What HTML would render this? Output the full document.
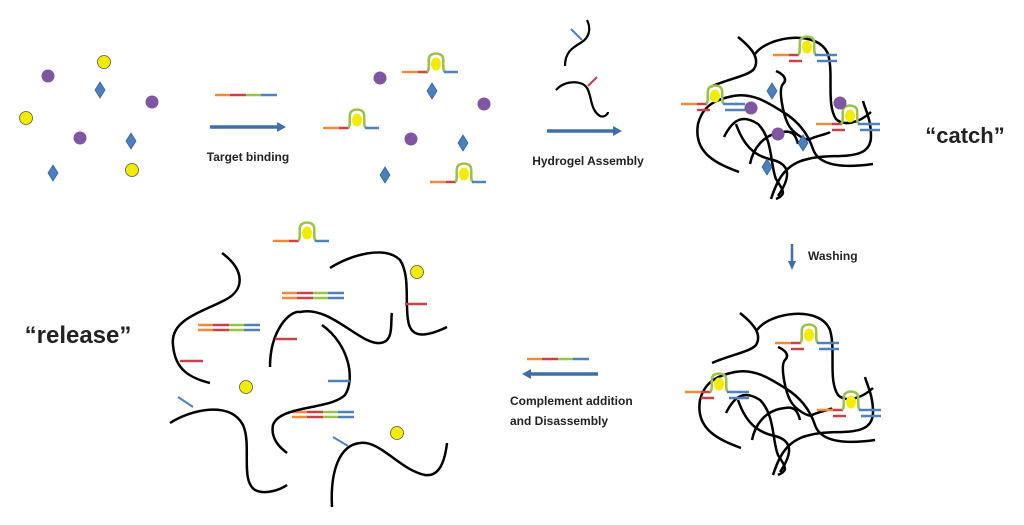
<!DOCTYPE html>
<html><head><meta charset="utf-8"><style>
html,body{margin:0;padding:0;background:#fff;}
svg{display:block;}
text{font-family:"Liberation Sans",sans-serif;font-weight:bold;fill:#222;}
</style></head><body>
<svg width="1024" height="525" viewBox="0 0 1024 525" xmlns="http://www.w3.org/2000/svg">
<defs>
<g id="dia"><path d="M0,-8 L5,0 L0,8 L-5,0 Z" fill="#4a7fc0" stroke="#35659c" stroke-width="0.8"/></g>
<g id="pur"><circle r="6.5" fill="#8056a3"/></g>
<g id="yel"><circle r="6.5" fill="#f2ec00" stroke="#555" stroke-width="0.8"/></g>
<g id="probe">
<line x1="-34" y1="0" x2="-18" y2="0" stroke="#ee8a3a" stroke-width="2.5"/>
<line x1="-18" y1="0" x2="-8" y2="0" stroke="#c9414a" stroke-width="2.5"/>
<path d="M-9,0 C-6,-2 -8,-8 -7,-14 C-6,-20 6,-20 7,-14 C8,-8 6,-2 9,0" fill="none" stroke="#9ac24a" stroke-width="2.5"/>
<ellipse cx="0" cy="-8" rx="5" ry="6.5" fill="#f2ec00"/>
<line x1="8" y1="0" x2="22" y2="0" stroke="#4f81bd" stroke-width="2.5"/>
</g>
<g id="gprobe">
<use href="#probe"/>
<line x1="-18" y1="6" x2="-5" y2="6" stroke="#c9414a" stroke-width="2.5"/>
<line x1="10" y1="6" x2="30" y2="6" stroke="#4f81bd" stroke-width="2.5"/>
<line x1="20" y1="0" x2="30" y2="0" stroke="#4f81bd" stroke-width="2.5"/>
</g>
<g id="strand">
<line x1="0" y1="0" x2="15" y2="0" stroke="#ee8a3a" stroke-width="2.5"/>
<line x1="15" y1="0" x2="31" y2="0" stroke="#c9414a" stroke-width="2.5"/>
<line x1="31" y1="0" x2="46" y2="0" stroke="#9ac24a" stroke-width="2.5"/>
<line x1="46" y1="0" x2="62" y2="0" stroke="#4f81bd" stroke-width="2.5"/>
</g>
<g id="duplex"><use href="#strand"/><use href="#strand" y="5"/></g>
<g id="gel" fill="none" stroke="#000" stroke-width="2.5">
<path d="M80,13 C95,25 102,35 96,45 C90,52 70,55 52,63"/>
<path d="M97,30 C110,12 160,5 170,30 C176,50 168,80 178,95 C185,102 200,100 213,88"/>
<path d="M81,148 C60,140 35,130 40,100 C45,80 60,75 75,72 C95,68 112,80 125,88 C140,97 150,110 155,125 C160,140 180,145 215,140"/>
<path d="M66,113 C75,95 85,90 100,100 C115,115 112,140 118,155 C124,165 130,170 118,175"/>
<path d="M78,100 C85,120 95,132 115,136 C130,140 135,150 120,172"/>
<path d="M113,175 C118,160 125,140 150,135 C175,128 213,140 213,112 C213,95 207,85 205,77"/>
<path d="M118,47 C125,50 130,55 125,60 C120,65 125,90 130,100 C135,110 150,118 152,115 C158,112 170,110 172,108"/>
<path d="M92,140 C95,125 105,110 125,108 C135,106 138,112 140,120"/>
</g>
</defs>

<use href="#yel" x="104" y="62"/><use href="#yel" x="26" y="118"/><use href="#yel" x="132" y="170"/>
<use href="#pur" x="48" y="76"/><use href="#pur" x="152" y="102"/><use href="#pur" x="80" y="138"/>
<use href="#dia" x="100" y="90"/><use href="#dia" x="131" y="141"/><use href="#dia" x="53" y="173"/>

<use href="#strand" x="215" y="95"/>
<line x1="210" y1="127" x2="278" y2="127" stroke="#3f6fa8" stroke-width="3.5"/>
<path d="M277,122 L286,127 L277,132 Z" fill="#3f6fa8"/>
<text x="248" y="161" font-size="12" text-anchor="middle">Target binding</text>

<use href="#pur" x="380" y="78"/><use href="#pur" x="484" y="104"/><use href="#pur" x="411" y="139"/>
<use href="#dia" x="432" y="91"/><use href="#dia" x="463" y="143"/><use href="#dia" x="385" y="175"/>
<use href="#probe" x="436" y="72"/>
<use href="#probe" x="357" y="128"/>
<use href="#probe" x="464" y="182"/>

<g fill="none" stroke="#000" stroke-width="2.2">
<path d="M587,20 C592,30 588,38 582,42 C572,48 565,52 565,66"/>
<path d="M556,90 C565,80 582,80 587,88 C592,96 590,110 600,116 C604,118 608,114 608,112"/>
</g>
<line x1="571" y1="29" x2="582" y2="40" stroke="#4f81bd" stroke-width="2"/>
<line x1="588" y1="86" x2="597" y2="77" stroke="#c9414a" stroke-width="2"/>
<line x1="547" y1="131" x2="614" y2="131" stroke="#3f6fa8" stroke-width="3.5"/>
<path d="M613,126 L622,131 L613,136 Z" fill="#3f6fa8"/>
<text x="588" y="165" font-size="12" text-anchor="middle">Hydrogel Assembly</text>

<g transform="translate(658,24)">
<use href="#gel"/>
<use href="#gprobe" x="149" y="31"/>
<use href="#gprobe" x="57" y="80"/>
<use href="#gprobe" x="192" y="100"/>
</g>
<use href="#pur" x="751" y="108"/><use href="#pur" x="840" y="103"/><use href="#pur" x="778" y="134"/>
<use href="#dia" x="772" y="91"/><use href="#dia" x="803" y="143"/><use href="#dia" x="767" y="167"/>
<text x="965" y="143" font-size="22" text-anchor="middle">“catch”</text>

<line x1="792" y1="244" x2="792" y2="262" stroke="#3f6fa8" stroke-width="2.5"/>
<path d="M788,261 L792,270 L796,261 Z" fill="#3f6fa8"/>
<text x="808" y="260" font-size="12">Washing</text>

<g transform="translate(660,300)">
<use href="#gel"/>
<use href="#gprobe" x="149" y="43"/>
<use href="#gprobe" x="59" y="92"/>
<use href="#gprobe" x="191" y="110"/>
</g>

<use href="#strand" x="527" y="359"/>
<line x1="530" y1="374" x2="598" y2="374" stroke="#3f6fa8" stroke-width="3.5"/>
<path d="M531,369 L522,374 L531,379 Z" fill="#3f6fa8"/>
<text x="510" y="405" font-size="12">Complement addition</text>
<text x="510" y="425" font-size="12">and Disassembly</text>

<text x="78" y="343" font-size="24" text-anchor="middle">“release”</text>

<use href="#probe" x="307" y="241"/>
<use href="#duplex" x="282" y="293"/>
<use href="#duplex" x="198" y="325"/>
<use href="#duplex" x="292" y="412"/>
<g fill="none" stroke="#000" stroke-width="2.5">
<path d="M222,253 C245,270 245,290 225,300 C200,313 170,320 173,345 C175,370 190,378 210,383"/>
<path d="M330,268 C350,255 385,245 400,260 C410,275 405,300 408,320 C410,335 420,340 447,327"/>
<path d="M270,367 C270,330 290,310 300,312 C330,305 360,345 380,343 C395,342 390,320 392,313"/>
<path d="M322,325 C350,345 355,380 345,395 C330,410 280,405 273,425 C270,440 283,450 287,453"/>
<path d="M170,423 C190,410 230,400 243,425 C252,445 240,480 255,490 C265,495 280,490 287,485"/>
<path d="M332,507 C330,470 340,445 360,443 C380,440 400,470 425,475 C440,477 445,460 447,443"/>
</g>
<line x1="180" y1="361" x2="203" y2="361" stroke="#c9414a" stroke-width="2.5"/>
<line x1="405" y1="304" x2="427" y2="304" stroke="#c9414a" stroke-width="2.5"/>
<line x1="275" y1="339" x2="297" y2="339" stroke="#c9414a" stroke-width="2.5"/>
<line x1="328" y1="381" x2="350" y2="381" stroke="#4f81bd" stroke-width="2.5"/>
<line x1="178" y1="397" x2="193" y2="407" stroke="#4f81bd" stroke-width="2"/>
<line x1="333" y1="437" x2="348" y2="446" stroke="#4f81bd" stroke-width="2"/>
<use href="#yel" x="417" y="272"/><use href="#yel" x="246" y="387"/><use href="#yel" x="397" y="433"/>
</svg>
</body></html>
